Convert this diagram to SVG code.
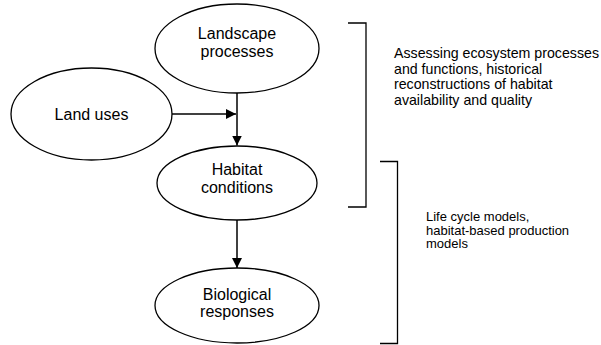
<svg xmlns="http://www.w3.org/2000/svg" width="601" height="345" viewBox="0 0 601 345">
<defs>
<style>
.node ellipse{fill:#fff;stroke:#000;stroke-width:1.3}
.lbl{font-family:"Liberation Sans",Arial,sans-serif;font-size:16px;fill:#000;text-anchor:middle}
.note{font-family:"Liberation Sans",Arial,sans-serif;font-size:14.2px;fill:#000}
.conn line{stroke:#000;stroke-width:1.5}
.br{fill:none;stroke:#000;stroke-width:1.3}
</style>
<marker id="ah" viewBox="0 0 10 10" refX="10" refY="5" markerWidth="10" markerHeight="10" markerUnits="userSpaceOnUse" orient="auto">
<path d="M0,0 L10,5 L0,10 z" fill="#000"/>
</marker>
</defs>
<rect width="601" height="345" fill="#fff"/>
<g id="landscape" class="node">
<ellipse cx="237" cy="48.5" rx="82" ry="44.5"/>
<text class="lbl" x="237" y="39">Landscape</text>
<text class="lbl" x="237" y="57">processes</text>
</g>
<g id="landuses" class="node">
<ellipse cx="91.5" cy="114" rx="80.5" ry="46"/>
<text class="lbl" x="91.5" y="119.5">Land uses</text>
</g>
<g id="habitat" class="node">
<ellipse cx="237" cy="183" rx="80" ry="37"/>
<text class="lbl" x="237" y="175">Habitat</text>
<text class="lbl" x="237" y="193">conditions</text>
</g>
<g id="biological" class="node">
<ellipse cx="237" cy="305.5" rx="82" ry="37.5"/>
<text class="lbl" x="237" y="300">Biological</text>
<text class="lbl" x="237" y="317">responses</text>
</g>
<g id="connectors" class="conn">
<line x1="237" y1="93" x2="237" y2="145.5" marker-end="url(#ah)"/>
<line x1="172" y1="114" x2="236" y2="114" marker-end="url(#ah)"/>
<line x1="237" y1="220" x2="237" y2="268" marker-end="url(#ah)"/>
</g>
<g id="bracket1">
<path class="br" d="M348,23 H366 V207 H348"/>
<text class="note" x="394" y="58">Assessing ecosystem processes</text>
<text class="note" x="394" y="73.5">and functions, historical</text>
<text class="note" x="394" y="89">reconstructions of habitat</text>
<text class="note" x="394" y="104.5">availability and quality</text>
</g>
<g id="bracket2">
<path class="br" d="M380,161.5 H397.5 V343.5 H380"/>
<text class="note" x="426" y="221" style="font-size:13px">Life cycle models,</text>
<text class="note" x="426" y="234.5" style="font-size:13px">habitat-based production</text>
<text class="note" x="426" y="248" style="font-size:13px">models</text>
</g>
</svg>
